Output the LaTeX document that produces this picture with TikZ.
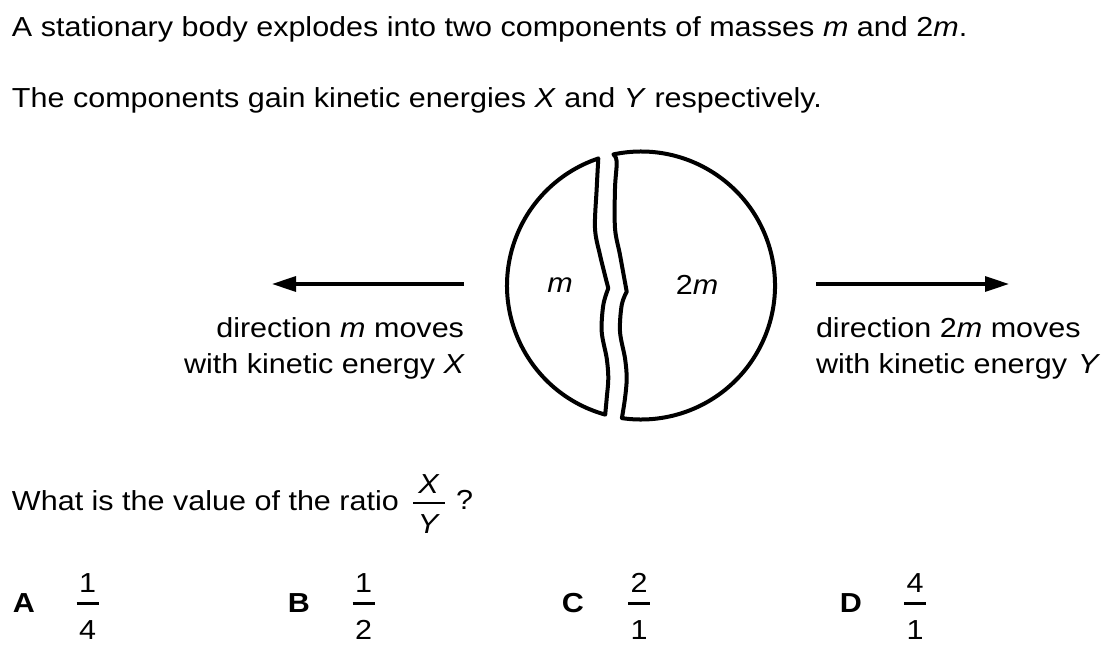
\documentclass[tikz,border=0pt]{standalone}
\usepackage{fontspec}
\setmainfont{Liberation Sans}[FakeStretch=1.11]
\usetikzlibrary{arrows.meta}
\tikzset{
  txt/.style={inner sep=0pt, outer sep=0pt, font=\fontsize{27.5}{33}\selectfont},
  txtb/.style={txt, font=\fontsize{27.5}{33}\selectfont\bfseries},
  body/.style={line width=4pt, line join=round},
  movearrow/.style={line width=3.2pt, -{Triangle[length=24pt,width=15pt]}},
  fracbar/.style={line width=2.4pt},
}
\begin{document}
\begin{tikzpicture}[x=1pt,y=1pt]
\fill[white] (0,0) rectangle (1110,-652);
\useasboundingbox (0,0) rectangle (1110,-652);
% heading
\node[txt, anchor=base west] (l1) at (12,-37) {A stationary body explodes into two components of masses \textit{m} and 2\textit{m}.};
\node[txt, anchor=base west] (l2) at (12,-108) {The components gain kinetic energies \textit{X} and \textit{Y} respectively.};
% left piece
\draw[body] (605.2,-414.6) arc[start angle=254.5, end angle=108.7, radius=134]
  -- plot[smooth, tension=0.55] coordinates {(598.3,-158.3) (596.7,-188.3) (595,-228.3) (600,-255) (608.3,-288.3)}
  -- plot[smooth, tension=0.55] coordinates {(608.3,-288.3) (603.3,-305) (601.7,-331.7) (606.7,-358.3) (608.3,-378.3) (606.7,-398.3) (605.2,-414.6)} -- cycle;
% right piece
\draw[body] (613.4,-154.4) arc[start angle=101.9, end angle=-98.2, radius=134]
  -- plot[smooth, tension=0.55] coordinates {(621.9,-418.1) (625,-398.3) (626.7,-378.3) (625,-358.3) (620,-331.7) (621.7,-305) (626.7,-291.7)}
  -- plot[smooth, tension=0.55] coordinates {(626.7,-291.7) (620,-255) (615,-228.3) (615,-188.3) (616.7,-161.7) (613.4,-154.4)} -- cycle;
\node[txt] (mlab) at (560,-285) {\textit{m}};
\node[txt] (mmlab) at (697,-285) {2\textit{m}};
% arrows
\coordinate (la0) at (464,-284);
\coordinate (la1) at (272,-284);
\coordinate (ra0) at (816,-284);
\coordinate (ra1) at (1009,-284);
\draw[movearrow] (la0) -- (la1);
\draw[movearrow] (ra0) -- (ra1);
\node[txt, anchor=base east] (lt1) at (464,-337) {direction \textit{m} moves};
\node[txt, anchor=base east] (lt2) at (465,-373) {with kinetic energy \textit{X}};
\node[txt, anchor=base west] (rt1) at (816,-337) {direction 2\textit{m} moves};
\node[txt, anchor=base west] (rt2) at (816,-373) {with kinetic energy\hspace{11pt}\textit{Y}};
% question
\node[txt, anchor=base west] (q) at (12,-510) {What is the value of the ratio};
\node[txt, anchor=base] (qx) at (429,-493.3) {\textit{X}};
\draw[fracbar] (413,-502.7) -- (445,-502.7);
\node[txt, anchor=base] (qy) at (429,-533.5) {\textit{Y}};
\node[txt, anchor=base west] (qm) at (456,-509.5) {?};
% answers
\node[txtb, anchor=base] (A) at (24,-612.5) {A};
\node[txt, anchor=base] (an) at (87.5,-592.5) {1};
\draw[fracbar] (76.5,-603.3) -- (98.5,-603.3);
\node[txt, anchor=base] (ad) at (87.5,-639.5) {4};
\node[txtb, anchor=base] (B) at (299,-612.5) {B};
\node[txt, anchor=base] (bn) at (363.5,-592.5) {1};
\draw[fracbar] (352.5,-603.3) -- (374.5,-603.3);
\node[txt, anchor=base] (bd) at (363.5,-639.5) {2};
\node[txtb, anchor=base] (C) at (573,-612.5) {C};
\node[txt, anchor=base] (cn) at (639,-592.5) {2};
\draw[fracbar] (628,-603.3) -- (650,-603.3);
\node[txt, anchor=base] (cd) at (639,-639.5) {1};
\node[txtb, anchor=base] (D) at (851,-612.5) {D};
\node[txt, anchor=base] (dn) at (915,-592.5) {4};
\draw[fracbar] (904,-603.3) -- (926,-603.3);
\node[txt, anchor=base] (dd) at (915,-639.5) {1};
\end{tikzpicture}
\end{document}
